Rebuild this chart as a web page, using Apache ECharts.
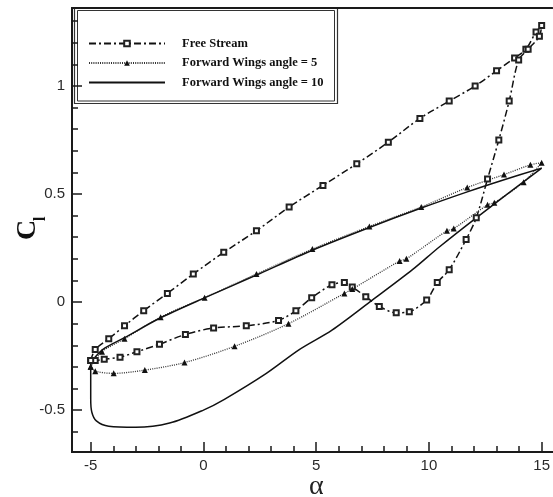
<!DOCTYPE html>
<html>
<head>
<meta charset="utf-8">
<script src="https://cdn.jsdelivr.net/npm/echarts@6/dist/echarts.min.js"></script>
<style>html,body{margin:0;padding:0;background:#fff}#c{width:553px;height:497px}</style>
</head>
<body>
<div id="c"></div>
<script>
// ---- data ----
const seriesNames = ['Free Stream', 'Forward Wings angle = 5', 'Forward Wings angle = 10'];

const alphaFS = [-5, -4.8, -4.2, -3.5, -2.65, -1.6, -0.45, 0.9, 2.35, 3.8, 5.3, 6.8, 8.2, 9.6, 10.9, 12.05, 13.0, 13.8, 14.3, 14.75, 15.0,
  14.9, 14.4, 13.98, 13.56, 13.1, 12.6, 12.1, 11.65, 10.9, 10.37, 9.9, 9.13, 8.55, 7.8, 7.2, 6.6, 6.25, 5.7, 4.8, 4.1, 3.33, 1.9, 0.45, -0.8, -1.95, -2.95, -3.7, -4.4, -4.8, -5];
const clFS = [-0.27, -0.22, -0.17, -0.11, -0.04, 0.04, 0.13, 0.23, 0.33, 0.44, 0.54, 0.64, 0.74, 0.85, 0.93, 1.0, 1.07, 1.13, 1.17, 1.25, 1.28,
  1.23, 1.17, 1.12, 0.93, 0.75, 0.57, 0.39, 0.29, 0.15, 0.09, 0.01, -0.045, -0.05, -0.02, 0.025, 0.07, 0.09, 0.08, 0.02, -0.04, -0.085, -0.11, -0.12, -0.15, -0.195, -0.23, -0.255, -0.265, -0.27, -0.27];

const alphaFW5 = [-5, -4.8, -3.98, -2.6, -0.84, 1.38, 3.77, 6.25, 6.6, 8.7, 9.0, 10.8, 11.1, 12.6, 12.9, 14.2, 15.0,
  14.5, 13.33, 11.7, 9.66, 7.36, 4.83, 2.35, 0.05, -1.9, -3.5, -4.5, -5];
const clFW5 = [-0.3, -0.32, -0.33, -0.315, -0.28, -0.205, -0.1, 0.04, 0.06, 0.19, 0.2, 0.33, 0.34, 0.45, 0.46, 0.555, 0.645,
  0.635, 0.59, 0.53, 0.44, 0.35, 0.245, 0.13, 0.02, -0.07, -0.17, -0.23, -0.3];

const alphaFW10 = [-5, -4.47, -3.5, -1.94, 0.17, 2.35, 4.83, 7.36, 9.66, 11.7, 13.3, 15.0,
  12.1, 10.46, 9.27, 7.5, 5.7, 4.25, 2.79, 0.93, 0.0, -1.5, -3.0, -4.2, -4.75, -4.95, -5.0, -5];
const clFW10 = [-0.28, -0.22, -0.165, -0.075, 0.025, 0.125, 0.24, 0.345, 0.435, 0.51, 0.565, 0.62,
  0.39, 0.255, 0.15, 0.01, -0.13, -0.22, -0.33, -0.45, -0.5, -0.56, -0.58, -0.575, -0.55, -0.51, -0.45, -0.28];

const xMajorTicks = [-5, 0, 5, 10, 15];
const xMinorTicks = [-5, -4, -3, -2, -1, 0, 1, 2, 3, 4, 5, 6, 7, 8, 9, 10, 11, 12, 13, 14, 15];
const yMajorTicks = [-0.5, 0, 0.5, 1];
const yMinorTicks = [-0.6, -0.5, -0.4, -0.3, -0.2, -0.1, 0, 0.1, 0.2, 0.3, 0.4, 0.5, 0.6, 0.7, 0.8, 0.9, 1, 1.1, 1.2, 1.3];

// ---- chart ----
const zip = (a, b) => a.map((v, i) => [v, b[i]]);
const X_MIN = -5.83, X_MAX = 15.47, Y_MIN = -0.694, Y_MAX = 1.361;
const axisCol = '#1a1a1a';
const labelFont = { fontFamily: 'Liberation Sans, Arial', fontSize: 15, color: '#2a2a2a' };

function xAxisDef(ticks, len, labels, pos) {
  return {
    type: 'value', min: X_MIN, max: X_MAX, position: pos || 'bottom',
    axisLine: { show: true, onZero: false, lineStyle: { color: axisCol, width: 2 } },
    axisTick: { show: ticks !== null, inside: true, length: len, customValues: ticks || [], lineStyle: { color: axisCol, width: 1.5 } },
    axisLabel: labels ? Object.assign({ show: true, customValues: labels, margin: 6 }, labelFont) : { show: false },
    splitLine: { show: false }
  };
}
function yAxisDef(ticks, len, labels) {
  return {
    type: 'value', min: Y_MIN, max: Y_MAX, position: 'left',
    axisLine: { show: true, onZero: false, lineStyle: { color: axisCol, width: 2 } },
    axisTick: { show: true, inside: true, length: len, customValues: ticks, lineStyle: { color: axisCol, width: 1.5 } },
    axisLabel: labels ? Object.assign({ show: true, customValues: labels, margin: 7 }, labelFont) : { show: false },
    splitLine: { show: false }
  };
}

const chart = echarts.init(document.getElementById('c'), null, { renderer: 'canvas' });
chart.setOption({
  animation: false,
  backgroundColor: '#fff',
  grid: { left: 72, right: 0, top: 8, bottom: 45 },
  xAxis: [
    xAxisDef(xMajorTicks, 10, xMajorTicks),
    xAxisDef(xMinorTicks, 6, null),
    xAxisDef(null, 0, null, 'top')
  ],
  yAxis: [
    yAxisDef(yMajorTicks, 10, yMajorTicks),
    yAxisDef(yMinorTicks, 6, null)
  ],
  legend: {
    orient: 'vertical', left: 83, top: 32,
    itemWidth: 76, itemHeight: 7, itemGap: 6.5,
    textStyle: { fontFamily: 'Liberation Serif, Times New Roman', fontWeight: 'bold', fontSize: 12.5, color: '#111', padding: [0, 0, 0, 12] },
    data: [
      { name: seriesNames[0] },
      { name: seriesNames[1] },
      { name: seriesNames[2], itemStyle: { opacity: 0 } }
    ]
  },
  graphic: [
    { type: 'rect', shape: { x: 74.5, y: 7.5, width: 263, height: 96 }, style: { fill: null, stroke: '#333', lineWidth: 1.2 }, silent: true },
    { type: 'rect', shape: { x: 77.5, y: 10.5, width: 257, height: 90.5 }, style: { fill: null, stroke: '#333', lineWidth: 1 }, silent: true },
    { type: 'text', left: 309, top: 473, style: { text: 'α', font: '28px "Liberation Serif", "Times New Roman", serif', fill: '#222' } },
    { type: 'text', x: 14, y: 240, rotation: Math.PI / 2, style: { text: 'C', font: 'bold 28px "Liberation Serif", "Times New Roman", serif', fill: '#111' } },
    { type: 'text', x: 33, y: 221, rotation: Math.PI / 2, style: { text: 'l', font: 'bold 16px "Liberation Serif", "Times New Roman", serif', fill: '#111' } }
  ],
  series: [
    {
      name: seriesNames[0], type: 'line', data: zip(alphaFS, clFS), smooth: 0.3,
      symbol: 'emptyRect', symbolSize: 5, showSymbol: true,
      lineStyle: { color: '#111', width: 1.5, type: [7, 3, 2, 3] },
      itemStyle: { color: '#222', borderColor: '#222', borderWidth: 1 }
    },
    {
      name: seriesNames[1], type: 'line', data: zip(alphaFW5, clFW5), smooth: 0.3,
      symbol: 'triangle', symbolSize: 6, showSymbol: true,
      lineStyle: { color: '#333', width: 1.3, type: [1, 1.2] },
      itemStyle: { color: '#111' }
    },
    {
      name: seriesNames[2], type: 'line', data: zip(alphaFW10, clFW10), smooth: 0.3,
      symbol: 'none', showSymbol: false,
      lineStyle: { color: '#111', width: 1.5, type: 'solid' },
      itemStyle: { color: '#111' }
    }
  ]
});
</script>
</body>
</html>
